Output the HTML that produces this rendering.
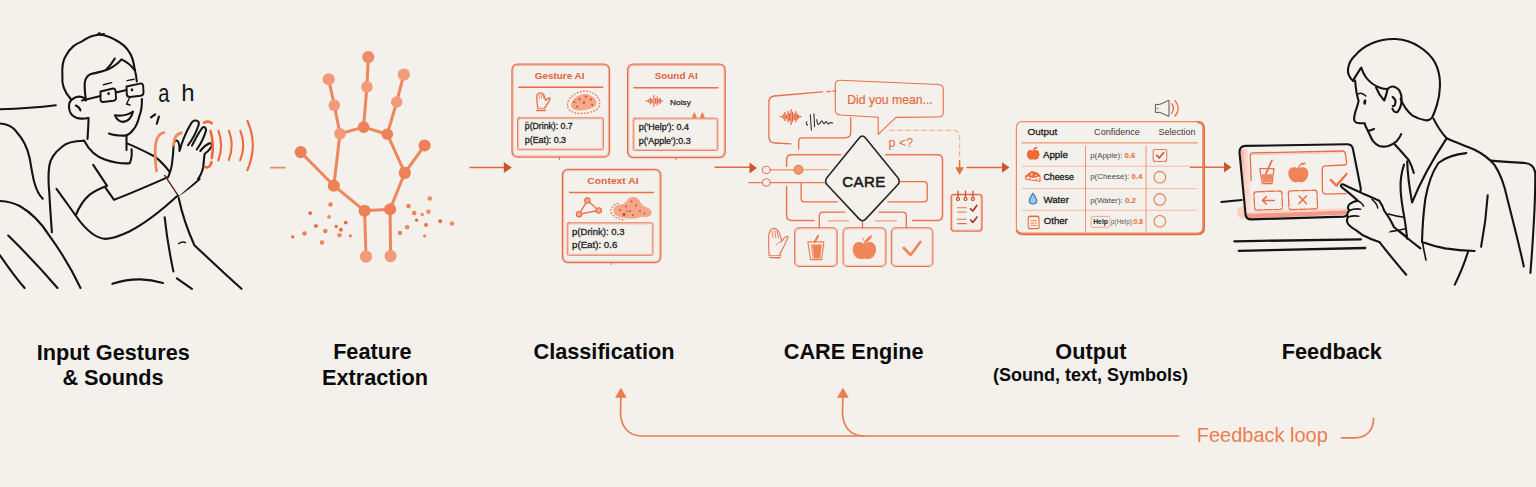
<!DOCTYPE html>
<html lang="en">
<head>
<meta charset="utf-8">
<title>CARE pipeline</title>
<style>
html,body{margin:0;padding:0;background:#f4f1ec;}
body{width:1536px;height:487px;overflow:hidden;font-family:"Liberation Sans",sans-serif;}
svg{display:block;}
.lbl{font-family:"Liberation Sans",sans-serif;font-weight:bold;font-size:21.7px;fill:#0a0a0a;text-anchor:middle;}
.k{fill:none;stroke:#141414;stroke-width:2.1;stroke-linecap:round;stroke-linejoin:round;}
.o{fill:none;stroke:#ea6d4a;stroke-width:1.3;stroke-linecap:round;stroke-linejoin:round;}
.ol{fill:none;stroke:#ee8a62;stroke-width:1.3;stroke-linecap:round;stroke-linejoin:round;}
.of{fill:#ee7f55;stroke:none;}
.ct{font-family:"Liberation Sans",sans-serif;font-weight:bold;font-size:9.9px;fill:#e0623f;text-anchor:middle;}
.pt{font-family:"Liberation Sans",sans-serif;font-size:9px;fill:#222;stroke:#222;stroke-width:0.3;}
</style>
</head>
<body>
<svg width="1536" height="487" viewBox="0 0 1536 487">
<rect x="0" y="0" width="1536" height="487" fill="#f4f1ec"/>

<!-- LABELS -->
<g id="labels">
<text class="lbl" x="113.3" y="359.9">Input Gestures</text>
<text class="lbl" x="113" y="385.4">&amp; Sounds</text>
<text class="lbl" x="372.3" y="358.6">Feature</text>
<text class="lbl" x="375.1" y="385.2">Extraction</text>
<text class="lbl" x="604" y="358.6">Classification</text>
<text class="lbl" x="853.7" y="359.4">CARE Engine</text>
<text class="lbl" x="1090.9" y="359.3">Output</text>
<text class="lbl" x="1090.5" y="381.3" style="font-size:18px">(Sound, text, Symbols)</text>
<text class="lbl" x="1331.8" y="358.8">Feedback</text>
</g>

<!-- FEEDBACK LOOP -->
<g id="loop" fill="none" stroke="#e87d52" stroke-width="1.7" stroke-linecap="round">
<path d="M1178.5 436 H642 C628 436 620.5 426 620.5 412 L620.9 396"/>
<path d="M864 436 C850 436 842.5 426 842.5 412 L842.9 396"/>
<path d="M1341.5 437.8 H1355 C1366 437.6 1373.6 431 1373.6 418.3"/>
<path d="M620.9 387.8 L626.8 397.8 L615 397.8 Z" fill="#e87d52" stroke="none"/>
<path d="M842.9 387.8 L848.8 397.8 L837 397.8 Z" fill="#e87d52" stroke="none"/>
</g>
<text x="1196.8" y="442.3" textLength="131" lengthAdjust="spacingAndGlyphs" style="font-family:'Liberation Sans',sans-serif;font-size:19.8px;fill:#ee7d50;">Feedback loop</text>

<!-- FLOW ARROWS -->
<g id="arrows" stroke="#dd6a3f" stroke-width="1.4" fill="none" stroke-linecap="round">
<path d="M270.8 167.7 H285" stroke="#ee8a5e" stroke-width="1.7"/>
<path d="M470 167.5 H505"/>
<path d="M503.8 161.9 L511.8 167.5 L503.8 173.1 Z" fill="#c8552e" stroke="none"/>
<path d="M715 167.3 H750"/>
<path d="M749.5 162.6 L757 168 L749.5 173.4 Z" fill="#c8552e" stroke="none"/>
<path d="M967 167.5 H1003"/>
<path d="M1002 162.3 L1009.5 167.5 L1002 172.7 Z" fill="#c8552e" stroke="none"/>
<path d="M1190.5 167.2 H1225"/>
<path d="M1224 162 L1231.5 167.2 L1224 172.4 Z" fill="#c8552e" stroke="none"/>
</g>

<!--P1START-->
<g id="person1" class="k">
<!-- couch -->
<path d="M0 109.3 C20 108.7 40 107.2 55.8 105.2"/>
<path d="M0 123.5 C8 124 13 127 16.4 131.7 C24 140 28 150 29.6 158 C31.5 168 32.5 176 34.5 183 C36.5 190 39 195 42.7 198.8"/>
<path d="M0 201 C8 201.5 14 203 19.7 206 C32 213 42 224 49.3 235.6 C62 253 72 270 80.5 288"/>
<path d="M8.2 235.6 C25 252 42 270 57.5 288"/>
<path d="M0 255.3 C8 267 16 278 24.6 288"/>
<!-- head -->
<path d="M70.6 98.8 C64.5 92 61.5 84 62.4 75.8 C61.8 66 63 60 65.7 56.1 C70 47 76 44 82 41.4 C88 37 93 35.3 98.5 34.8 C105 34.5 110 37 115 39.7 C122 43 127 48 129.8 52.9 C133 58 134 64 134.7 69.3 C135.8 73.5 136.5 77.5 136.8 81.5"/>
<path d="M97 35 L99.5 33.2 M100.5 34.6 L104 34"/>
<path d="M86 100.5 C85 94 84.3 88 84.8 82.4 C85.5 78 87.5 75.5 90.3 74.2 C97 72.5 103 71.5 108.4 69.3 C114 66.5 118.5 63 121.5 59.4 C127 62 131.5 66 134.7 70"/>
<path d="M105.8 70 C109.5 66.5 112.5 62.5 114.8 58.5"/>
<!-- ear -->
<path d="M84.8 98.2 C81 96.3 76.5 96.5 73.9 98.2 C70.5 100 69 102.5 69 105.4 C68.8 109.5 70 113 72.3 115.3 C75 117.8 78.5 118.8 82.1 118.6 C84.5 118.6 86.5 118.3 88 117.9"/>
<path d="M75.8 105.5 C78 106.5 79.8 108.3 80.5 110.5"/>
<!-- jaw & neck -->
<path d="M141.9 99 C142 106 141 112 139.6 115.3 C138 122 136 127 133 130 C130 134 126 135.8 123.2 135.6 C118 135.6 113 135 109 133.5"/>
<path d="M88.5 118 C88.5 125 88 132 87.5 139"/>
<path d="M126.5 136 L126.5 150"/>
<!-- glasses -->
<path d="M100.5 91.5 L113 88.5 C114.5 88.3 115.3 89 115.5 90.5 L116 98 C116 99.5 115 100.5 113.5 100.8 L103 102 C101.5 102 100.7 101 100.5 99.5 Z" stroke-width="1.9"/>
<path d="M126.5 86.5 L140 83.6 C142 83.3 143 84.2 143.2 86 L143.5 92.5 C143.5 94.5 142.5 95.5 140.5 95.8 L130 97 C128 97 127 96 126.8 94.5 Z" stroke-width="1.9"/>
<path d="M116 92.5 L126.5 90" stroke-width="1.9"/>
<path d="M100.5 96 L82 100.5" stroke-width="1.9"/>
<ellipse cx="108.6" cy="93.6" rx="1.3" ry="1.6" fill="#161616" stroke="none"/>
<ellipse cx="132" cy="89.8" rx="1.3" ry="1.6" fill="#161616" stroke="none"/>
<path d="M103.5 84.8 L111.7 82.6 M127 80.6 L134 79.2" stroke-width="1.4"/>
<path d="M129.8 97.2 L126.5 104 L130 105" stroke-width="1.4"/>
<path d="M115 115.3 C121 116.2 128 115 133 111.5 C131.5 118 127.5 121.5 123 121.9 C119 121.5 116.5 119 115 115.3 Z"/>
<!-- collar, shoulders -->
<path d="M84 140.5 C90 152 98 157.5 105.4 159.7 C114 162.5 123 163.8 129.8 163.2 C131.6 159 132 154 131.6 149.2"/>
<path d="M84 140.8 C74 141 66 143 62.4 146.5 C54 153 50 160 49.3 166 C48 175 48.5 185 49.3 192.9 C50 207 51 220 51.9 232.3"/>
<path d="M127 143.4 C137 147.5 146 152 154.2 156.2 C160 160.5 166 167 171 173.6"/>
<!-- sleeve & arm -->
<path d="M93.2 164.9 L107.1 185.8 C100 188.5 94 191.5 89.7 194.6 C84 199.5 79 207 75.7 215.5 L56.5 188.9"/>
<path d="M105.4 187.6 L114.1 199.8 C132 193 150 185 168.2 177.1"/>
<path d="M75.7 215.5 C80 222 85 228 91.4 233 C96 236.5 100 238.5 105.4 238.9 C113 238.5 121 235.5 129.8 231.2 C146 223 162 210 176.9 196.3 C185 191 193 185 199.6 178.9"/>
<!-- torso right / leg -->
<path d="M164.7 217.3 C166.5 235 169.5 253 173.4 271.4"/>
<path d="M178.7 198 C182 214 187.5 230 194.4 245.2 C209 259 225 274 241.5 288.8"/>
<path d="M178.7 243.6 C181 242 183.5 241.7 185.7 242.6" stroke-width="1.4"/>
<path d="M112.4 283.8 C121 281 131 279.3 140.3 279.4 C148 279.6 156 281 163 282.9"/>
<path d="M176.9 278.3 L191.9 288.8"/>
<!-- hand -->
<path d="M168.2 177.1 C170 172.5 171.5 168 172 163.5 C173 157 173.4 150 173.6 145.5 C173.8 141.5 175.3 140 177 140.6 C179 141.5 179.6 146 179.5 151 C182 142 186 132 190.5 124.5 C192 121.5 194 120.3 196 120.5 C198.6 120.8 199.4 122.5 198.6 125 C200 126 201.5 127 202.5 127.6 C204 126.2 206 127.4 206.1 130 C205.5 134 204 138 202.5 141.5 L209.6 143.2 C211.5 143 212.4 144.5 211.8 146.2 C209.8 149.5 207.2 152 204.6 154 C204 159 203.5 163.5 203.2 167.5 C202 172 200.5 176 198 178.9 L178.7 196.3 Z" fill="#f4f1ec" stroke="none"/>
<path d="M168.2 177.1 C170 172.5 171.5 168 172 163.5 C173 157 173.4 150 173.6 145.5 C173.8 141.5 175.3 140 177 140.6 C179 141.5 179.6 146 179.5 151 C182 142 186 132 190.5 124.5 C192 121.5 194 120.3 196 120.5 C198.6 120.8 199.4 122.5 198.6 125 C196 133 192 140 188.1 145.2"/>
<path d="M192 145.6 C195 139.5 199 132 202.5 127.6 C204 126.2 206 127.4 206.1 130 C204.5 136.5 201 143.5 196.8 149.5"/>
<path d="M200.3 151 C203 147.5 206.5 144.5 209.6 143.2 C211.5 143 212.4 144.5 211.8 146.2 C209.8 149.5 207.2 152 204.6 154 C204 159 203.5 163.5 203.2 167.5 C202 172 200.5 176 198 178.9"/>
<path d="M164.7 175.4 L178.7 196.3" stroke="#5a2412" stroke-width="1.4"/>
<!-- a h marks -->
<path d="M151 117.4 L155.2 114.4 M156.8 123.8 L158.9 116.6" stroke-width="2.1"/>
</g>
<text x="158.2" y="101.7" textLength="11.2" lengthAdjust="spacingAndGlyphs" style="font-family:'Liberation Sans',sans-serif;font-size:25.5px;fill:#161616;">a</text>
<text x="181.2" y="101.1" style="font-family:'Liberation Sans',sans-serif;font-size:24px;fill:#161616;">h</text>
<g id="waves" fill="none" stroke="#ee6a3a" stroke-linecap="round">
<path d="M164 132.6 C158 133.6 155.4 139 155.2 150 C155.2 160 155.6 166 156.6 171" stroke-width="2.8" stroke="#f08a60"/>
<path d="M181.4 133 C176.5 133.6 174 137 173.6 145" stroke-width="2.8" stroke="#f08a60"/>
<path d="M204 122.6 C207 121.2 210 121.6 211.8 123.2 M210.6 131 C213 140 213.3 150 211.8 158 M211.5 162 C210.8 166 208.5 168.5 205 166.8" stroke-width="2.6"/>
<path d="M218.5 130.8 C221.8 140 221.8 151 218.3 160.4" stroke-width="2.1"/>
<path d="M229 130.8 C232.6 140 232.6 150 228.8 160" stroke-width="2.1"/>
<path d="M240.4 130.8 C244.2 140.5 244.2 150.5 240.2 160.4" stroke-width="2.1"/>
<path d="M247.5 121 C254.5 137 254.5 154 247.3 170.2" stroke-width="2.1"/>
</g>
<!--P1END-->
<!--HANDSTART-->
<g id="skeleton">
<g stroke="#ef865e" stroke-width="3" stroke-linecap="round" fill="none">
<path d="M328.6 79.3 L334.3 105.3"/>
<path d="M334.3 105.3 L340 133.7"/>
<path d="M368.3 57.1 L366.9 86.9"/>
<path d="M366.9 86.9 L363.6 127.1"/>
<path d="M403.8 74.6 L396.7 102"/>
<path d="M396.7 102 L387.3 134.2"/>
<path d="M340 133.7 L363.6 127.1"/>
<path d="M363.6 127.1 L387.3 134.2"/>
<path d="M340 133.7 L333.8 185.7"/>
<path d="M300.7 152.1 L333.8 185.7"/>
<path d="M333.8 185.7 L364.6 210.8"/>
<path d="M364.6 210.8 L390.1 209.3"/>
<path d="M390.1 209.3 L404.8 172.9"/>
<path d="M404.8 172.9 L387.3 134.2"/>
<path d="M404.8 172.9 L424.6 145.5"/>
<path d="M364.6 210.8 L366 256.6"/>
<path d="M390.1 209.3 L390.6 256.1"/>
</g>
<circle cx="368.3" cy="57.1" r="6.1" fill="#ef8c68"/>
<circle cx="366.9" cy="86.9" r="5.8" fill="#f19b7a"/>
<circle cx="363.6" cy="127.1" r="5.8" fill="#ed8158"/>
<circle cx="328.6" cy="79.3" r="6.1" fill="#f19b7a"/>
<circle cx="334.3" cy="105.3" r="5.8" fill="#f19b7a"/>
<circle cx="340" cy="133.7" r="5.8" fill="#f19b7a"/>
<circle cx="403.8" cy="74.6" r="6.1" fill="#f19b7a"/>
<circle cx="396.7" cy="102" r="5.8" fill="#f19b7a"/>
<circle cx="387.3" cy="134.2" r="5.8" fill="#ed8158"/>
<circle cx="300.7" cy="152.1" r="6.1" fill="#ed8158"/>
<circle cx="333.8" cy="185.7" r="6.1" fill="#ed8158"/>
<circle cx="424.6" cy="145.5" r="6.1" fill="#ed8158"/>
<circle cx="404.8" cy="172.9" r="6.1" fill="#ed8158"/>
<circle cx="364.6" cy="210.8" r="6.1" fill="#ed8158"/>
<circle cx="390.1" cy="209.3" r="6.1" fill="#ed8158"/>
<circle cx="366" cy="256.6" r="6.1" fill="#f19b7a"/>
<circle cx="390.6" cy="256.1" r="6.1" fill="#f19b7a"/>
<circle cx="292.7" cy="236.8" r="1.65" fill="#e96a40"/>
<circle cx="304.5" cy="233.5" r="2.25" fill="#ed8158"/>
<circle cx="310.2" cy="213.1" r="1.95" fill="#e96a40"/>
<circle cx="315.9" cy="225.9" r="1.95" fill="#e96a40"/>
<circle cx="322.0" cy="242.4" r="2.25" fill="#ed8158"/>
<circle cx="325.3" cy="231.1" r="2.25" fill="#ed8158"/>
<circle cx="329.1" cy="216.9" r="1.95" fill="#f08a60"/>
<circle cx="330.5" cy="204.6" r="2.25" fill="#ed8158"/>
<circle cx="336.2" cy="226.4" r="1.65" fill="#e96a40"/>
<circle cx="340.9" cy="229.7" r="1.95" fill="#e96a40"/>
<circle cx="339.5" cy="235.3" r="2.25" fill="#f08a60"/>
<circle cx="345.7" cy="222.6" r="1.95" fill="#e96a40"/>
<circle cx="350.4" cy="235.8" r="1.65" fill="#ed8158"/>
<circle cx="400.0" cy="233.0" r="2.25" fill="#ed8158"/>
<circle cx="407.1" cy="227.3" r="2.25" fill="#f08a60"/>
<circle cx="408.5" cy="206.0" r="2.25" fill="#ed8158"/>
<circle cx="414.2" cy="213.1" r="2.25" fill="#ed8158"/>
<circle cx="416.6" cy="220.2" r="1.65" fill="#e96a40"/>
<circle cx="422.2" cy="214.5" r="1.65" fill="#f08a60"/>
<circle cx="424.6" cy="235.8" r="1.65" fill="#f08a60"/>
<circle cx="426.0" cy="224.9" r="1.95" fill="#e96a40"/>
<circle cx="428.4" cy="211.7" r="2.25" fill="#f08a60"/>
<circle cx="429.8" cy="198.5" r="2.25" fill="#f08a60"/>
<circle cx="440.2" cy="221.2" r="1.95" fill="#e96a40"/>
<circle cx="452.0" cy="223.5" r="2.25" fill="#f08a60"/>
</g>
<!--HANDEND-->
<!--CARDSSTART-->
<g id="cards">
<!-- Gesture AI -->
<g class="o" stroke="#de6a4d" stroke-width="1">
<rect x="512" y="64.2" width="97.5" height="93" rx="5.5"/>
<rect x="513.2" y="65.5" width="95.2" height="90.4" rx="4.6" stroke-width="0.55" opacity="0.75"/>
<path d="M518.7 87.3 H602.7" stroke-width="1.4"/>
<rect x="517.6" y="117.8" width="85.8" height="32" rx="1.2" stroke-width="0.9"/>
<rect x="518.7" y="118.9" width="83.6" height="29.8" rx="1" stroke-width="0.5" opacity="0.7"/>
<path d="M559.5 157.3 V159.5" stroke-width="1"/>
<!-- hand icon -->
<path d="M537.9 108.1 C537.2 104.6 536.8 100.8 536.8 97.3 C536.8 96 537 95 537.5 94.2 C538.2 93.2 539 92.9 540 92.9 C541.4 92.9 542.7 93.4 543.5 94.2 C544.4 96.2 545 98.3 545.5 100.4 C546.6 99.2 548 98.2 549.3 97.8 C550.2 97.9 550.3 98.8 549.8 99.6 C548.4 102.2 546.8 104.8 545.2 107 L544.7 108.1" stroke-width="1.3"/>
<path d="M536.7 110.4 H545.5" stroke-width="1.5"/>
<path d="M538.2 108.3 H544.6" stroke-width="0.8"/>
<path d="M539 95 L539.6 98.4 M541 94 L541.6 98 M542.9 94.6 L543.4 98.2" stroke-width="0.7"/>
<!-- blob -->
<path d="M570.9 105 C571 102.5 572.2 100.5 574 98.9 C575.8 97 577.8 95.8 580.1 95 C582 94.2 584.2 93.8 586.3 93.9 C588.6 94.2 590.8 95.2 592.4 96.6 C594.2 97.8 595.6 99.4 596.3 101.2 C596.8 102.8 596.5 104.5 595.5 105.8 C594 107.5 591.8 108.4 589.4 108.9 C586.4 109.8 583.2 110.3 580.1 110.4 C577.6 110.4 575.2 110 573.2 108.9 C571.6 108 570.9 106.6 570.9 105 Z" fill="#f4a88a" stroke="none"/>
<path d="M567.5 105 C567.6 102.2 568.4 100 570.1 98.1 C572.4 95.5 575.2 93.6 578.6 92.4 C581 91.5 583.6 91 586.3 91.2 C589.4 91.5 592.4 92.6 594.8 94.2 C597 95.8 598.7 98 599.4 100.4 C600 102.9 599.8 105.3 598.6 107.3 C596.8 109.6 594 111.2 590.9 112 C587.4 113 583.7 113.5 580.1 113.5 C576.8 113.4 573.6 112.8 570.9 111.2 C568.6 109.8 567.5 107.6 567.5 105 Z" stroke-dasharray="1.7 1.5" stroke-width="1.25" stroke-linecap="butt"/>
</g>
<g fill="#d94f2c">
<circle cx="579.4" cy="99.2" r="1.1"/><circle cx="586" cy="96.6" r="1.1"/><circle cx="590.9" cy="99.6" r="1.1"/><circle cx="584" cy="102.7" r="1.2"/><circle cx="574.4" cy="102.1" r="1"/><circle cx="577.2" cy="106.6" r="1.1"/><circle cx="592.2" cy="104.8" r="1"/>
</g>
<text class="ct" x="559.6" y="78.6" textLength="49.8" lengthAdjust="spacingAndGlyphs">Gesture AI</text>
<text class="pt" style="font-size:8.7px" x="524.8" y="129.2" textLength="47.9" lengthAdjust="spacingAndGlyphs">p(Drink): 0.7</text>
<text class="pt" style="font-size:8.7px" x="524.8" y="143.2" textLength="41.2" lengthAdjust="spacingAndGlyphs">p(Eat): 0.3</text>
<path d="M525.2 122.2 H528.6" stroke="#2a2a2a" stroke-width="0.7"/>

<!-- Sound AI -->
<path d="M692.4 117.4 L694.4 112.6 L696.4 117.4 Z M700.2 117.4 L702.3 112.6 L704.4 117.4 Z" fill="#ee7b50" stroke="#ee7b50" stroke-width="0.8" stroke-linejoin="round"/>
<g class="o" stroke="#de6a4d" stroke-width="1">
<rect x="627.6" y="64.2" width="97.6" height="93.4" rx="5.5"/>
<rect x="628.8" y="65.5" width="95.2" height="90.8" rx="4.6" stroke-width="0.55" opacity="0.75"/>
<path d="M633.9 87.7 H717.9" stroke-width="1.4"/>
<rect x="633.2" y="118.2" width="84.6" height="32.2" rx="1.2" stroke-width="0.9" fill="#f4f1ec"/>
<rect x="634.3" y="119.3" width="82.4" height="30" rx="1" stroke-width="0.5" opacity="0.7"/>
<path d="M676 157.8 V159.6" stroke-width="1"/>
<!-- waveform -->
<path d="M646.2 100.9 H647.8 M649 99.3 V102.5 M650.6 97.9 V103.9 M652.2 99.5 V102.5 M653.9 95.5 V106.3 M655.6 98.6 V103.2 M657.2 96.9 V104.9 M658.8 99.3 V102.5 M660.2 98.3 V103.5 M661.4 100.9 H662.6" stroke-width="1.25"/>
</g>
<text class="ct" x="676.2" y="78.8" textLength="43" lengthAdjust="spacingAndGlyphs">Sound AI</text>
<text x="670.1" y="104.7" textLength="20.8" lengthAdjust="spacingAndGlyphs" style="font-family:'Liberation Sans',sans-serif;font-size:7.3px;fill:#2e2e2e;stroke:#2e2e2e;stroke-width:0.25;">Noisy</text>
<text class="pt" x="638.7" y="129.7" textLength="50.2" lengthAdjust="spacingAndGlyphs">p('Help'): 0.4</text>
<text class="pt" x="638.7" y="143.9" textLength="51.9" lengthAdjust="spacingAndGlyphs">p('Apple'):0.3</text>

<!-- Context AI -->
<g class="o" stroke="#de6a4d" stroke-width="1">
<rect x="562.4" y="169.4" width="98.4" height="93.2" rx="5.5"/>
<rect x="563.6" y="170.7" width="96" height="90.6" rx="4.6" stroke-width="0.55" opacity="0.75"/>
<path d="M569.7 192.5 H653.5" stroke-width="1.4"/>
<rect x="567.2" y="222.8" width="85.8" height="32.5" rx="1.2" stroke-width="0.9"/>
<rect x="568.3" y="223.9" width="83.6" height="30.3" rx="1" stroke-width="0.5" opacity="0.7"/>
<path d="M611 262.8 V264.6" stroke-width="1"/>
<!-- triangle graph -->
<path d="M587.4 200.6 L579 214.2 L598.8 210.5 Z" stroke-width="1.3"/>
<circle cx="587.4" cy="200.6" r="2.7" fill="#f4a88a" stroke-width="1.1"/>
<circle cx="579" cy="214.2" r="2.7" fill="#f4a88a" stroke-width="1.1"/>
<circle cx="598.8" cy="210.5" r="2.7" fill="#f4a88a" stroke-width="1.1"/>
<!-- blob -->
<path d="M613.5 211 C613 207 617 205 621 204.6 C624.5 204.2 626 201.5 627.8 199.2 C630 196.6 634.5 196.4 637.5 198.6 C640.5 201 641.2 205 644.5 206.6 C648 207.8 651.4 209 651.6 212.6 C651.6 216 648 217.6 644 216.8 C640.5 216.4 639 218.4 635 218.6 C629 219 622 218.4 618 216.6 C615 215.4 613.8 213.6 613.5 211 Z" fill="#f4a88a" stroke="none"/>
<path d="M618.5 203.4 C613.5 204.4 610.4 207.6 610.8 211.4 C611.4 216 617 219 625.5 220" stroke-dasharray="1.7 1.6" stroke-width="1.25" stroke-linecap="butt"/>
</g>
<g fill="#d94f2c">
<circle cx="620" cy="210" r="1"/><circle cx="626" cy="206.5" r="1"/><circle cx="631.5" cy="201.5" r="1.1"/><circle cx="636" cy="205.5" r="1"/><circle cx="630" cy="211" r="1"/><circle cx="624" cy="214.5" r="1.3" fill="#b82d16"/><circle cx="633" cy="215" r="0.9"/><circle cx="640" cy="211" r="1"/><circle cx="644.5" cy="213.5" r="0.9"/><circle cx="627" cy="211.5" r="0.8"/>
</g>
<text class="ct" x="613" y="184" textLength="51.3" lengthAdjust="spacingAndGlyphs">Context AI</text>
<text class="pt" style="font-size:9.4px" x="572" y="234.5" textLength="52.5" lengthAdjust="spacingAndGlyphs">p(Drink): 0.3</text>
<text class="pt" style="font-size:9.4px" x="572" y="248.3" textLength="45.3" lengthAdjust="spacingAndGlyphs">p(Eat): 0.6</text>
</g>
<!--CARDSEND-->
<!--ENGSTART-->
<g id="engine">
<g class="o" stroke-width="1.05" stroke="#e96f48">
<!-- sound bubble -->
<path d="M790.8 143.9 L775 143 C771 142.8 768.9 140.5 768.9 136.5 L768.9 102.5 C768.9 98.5 770.5 96.4 774.5 96 L822.4 91.9"/>
<path d="M827 91.6 L830.6 91.3 M833 91.1 L835.3 91"/>
<path d="M850.7 117.4 L850.7 132.5 C850.7 136 848.5 137.8 845 137.8 L801.7 137.8 C799.5 137.8 798.7 138.8 798.7 141 L798.7 149"/>
<!-- speech bubble -->
<path d="M840 80.2 L938.5 84.5 Q943.3 84.8 943.3 89.5 L943.3 112 Q943.3 117 938.5 117 L895.9 117.4 L878.2 134.4 L878.2 117.2 L840 115 Q835.3 114.7 835.3 110 L835.3 85 Q835.3 80 840 80.2 Z" stroke-width="1.1"/>
<!-- outer rect -->
<path d="M840.5 154.7 L791.5 154.7 C788.3 154.7 786.6 156.4 786.6 159.6 L786.6 166.4 M786.6 186.4 L786.6 215.5 C786.6 218.8 788.3 220.4 791.5 220.4 L813.9 220.4" stroke-width="1.5" stroke="#ee7454"/>
<path d="M885.7 154.7 L937.5 154.7 C940.8 154.7 942.5 156.4 942.5 159.6 L942.5 215.5 C942.5 218.8 940.8 220.4 937.5 220.4 L912.5 220.4" stroke-width="1.5" stroke="#ee7454"/>
<!-- inner rects -->
<path d="M801.1 183 L801.1 198.5 C801.1 200.8 802.3 201.9 804.5 201.9 L837.3 201.9"/>
<path d="M900.2 181.7 L923.5 181.7 C926 181.7 927.3 183 927.3 185.5 L927.3 198.2 C927.3 200.7 926 201.9 923.5 201.9 L887.9 201.9"/>
<!-- input lines -->
<path d="M748.6 182.6 H762.2 M770.2 182.6 H825" stroke-width="1.05" stroke="#ec7a54"/>
<path d="M770.2 169.9 H794" stroke="#ee8a62" stroke-width="1.1"/>
<path d="M803 169.7 H828" stroke="#f2a684"/>
<ellipse cx="766.2" cy="169.9" rx="4" ry="3.7" fill="#f4f1ec" stroke-width="1"/>
<ellipse cx="766.2" cy="182.5" rx="4" ry="3.7" fill="#f4f1ec" stroke-width="1"/>
<circle cx="798.5" cy="169.7" r="4.3" fill="#f29a72" stroke="#ee7b50"/>
<!-- tree -->
<path d="M844.7 212.2 L823 212.2 C820.5 212.2 819.3 213.4 819.3 216 L819.3 227.8"/>
<path d="M879.2 212.2 L902.5 212.2 C905 212.2 906.3 213.4 906.3 216 L906.3 227.8"/>
<path d="M862.5 221 V227.8"/>
<path d="M828.7 220.9 H848.4 M875.5 220.9 H896.5" stroke="#f2a07a"/>
<!-- boxes -->
<rect x="794.7" y="227.8" width="42.5" height="38.6" rx="4.5" stroke-width="1.05"/>
<rect x="843" y="227.8" width="43" height="38.6" rx="4.5" stroke-width="1.05"/>
<rect x="891.3" y="227.8" width="41.6" height="38.6" rx="4.5" stroke-width="1.05"/>
<rect x="795.8" y="228.9" width="40.3" height="36.4" rx="3.6" stroke-width="0.5" opacity="0.6"/>
<rect x="844.1" y="228.9" width="40.8" height="36.4" rx="3.6" stroke-width="0.5" opacity="0.6"/>
<rect x="892.4" y="228.9" width="39.4" height="36.4" rx="3.6" stroke-width="0.5" opacity="0.6"/>
<!-- check -->
<path d="M903.8 248 L910.6 255 L920.4 241.9" stroke-width="2.6" stroke="#f0875c"/>
<!-- cup -->
<path d="M807.8 241.9 H823.9 L821.6 259.6 H810.6 Z" stroke-width="1.1" stroke="#ee7b50"/>
<path d="M814.5 242.3 L818.2 235.8" stroke-width="2" stroke="#ee7b50"/>
<path d="M810.8 244.6 H821.9 L820.3 258.4 H812.6 Z" fill="#f08558" stroke="none"/>
<path d="M811.9 244.8 L813.5 258" stroke="#f7c9b4" stroke-width="0.8"/>
<!-- apple -->
<path d="M864.4 244.2 C861.4 241.6 857.4 241.4 855 243.6 C852 246.6 852.2 251.6 854.2 255 C856.2 258.4 860 260.2 864.4 258.4 C868.8 260.2 872.6 258.4 874.6 255 C876.6 251.6 876.8 246.6 873.8 243.6 C871.4 241.4 867.4 241.6 864.4 244.2 Z" fill="#f08558" stroke="none"/>
<path d="M864.6 243.8 C864.4 241.4 863.8 239.6 862.8 238" stroke-width="1" stroke="#f08558"/>
<path d="M864.8 243 C865.6 239.4 868.4 236.4 872 235.6 C871 238.6 868.6 241.4 864.8 243 Z" fill="#f08558" stroke="#f08558" stroke-width="0.8"/>
<!-- glove -->
<path d="M769.1 255.2 C768.6 248.5 768.4 241.5 768.8 235.2 C769 233 769.6 231.2 770.5 230 C771.6 228.8 773 228.3 774.6 228.4 C776.4 228.8 777.8 230 778.8 231.7 C780 234.8 781 238 781.7 241.1 C783 239.2 784.8 237.4 786.4 236.4 C787.6 236 788.3 236.6 787.9 237.6 C785.6 243.2 782.8 248.8 779.9 254 L780.5 255.2" stroke-width="1.1"/>
<path d="M769.4 257.4 C773 258 776.8 258 780.2 257.5" stroke-width="1.3"/>
<path d="M769.2 255.3 C773 255.8 776.8 255.8 780.4 255.3" stroke-width="0.8"/>
<path d="M771.7 231.1 L773.1 237.6 M774.6 230 L775.8 237.6 M777 231.1 L778.5 238.2" stroke-width="0.8"/>
<path d="M775.8 245.2 C777.4 243.4 779.6 242 781.7 241.7" stroke-width="0.8"/>
<!-- notepad -->
<rect x="951.2" y="194.3" width="30.8" height="36.8" rx="3" stroke-width="1.3"/>
<rect x="952.4" y="195.5" width="28.4" height="34.4" rx="2.3" stroke-width="0.5" opacity="0.6"/>
<path d="M957.4 207.7 H966.2 M957.4 212 H966.2 M957.4 219.3 H966.2 M957.4 223.6 H966.2" stroke-width="1.1"/>
</g>
<g fill="none" stroke="#c9451f" stroke-width="1.2" stroke-linecap="round">
<path d="M958 191 V198.5 M965.5 191 V198.5 M972.9 191 V198.5"/>
<circle cx="958" cy="199" r="1.5" fill="#f4f1ec"/><circle cx="965.5" cy="199" r="1.5" fill="#f4f1ec"/><circle cx="972.9" cy="199" r="1.5" fill="#f4f1ec"/>
</g>
<g fill="none" stroke="#a83218" stroke-width="1.6" stroke-linecap="round" stroke-linejoin="round">
<path d="M970.5 208.8 L972.9 211 L977 205.3 M970.5 220 L972.9 222.4 L977 217"/>
</g>
<!-- dashed line + arrow -->
<path d="M889 130.3 H953.5 C957.5 130.3 959.6 132.3 959.6 136.3 V158" fill="none" stroke="#f5b48e" stroke-width="1.2" stroke-dasharray="5.5 2.6"/>
<path d="M959.6 160 V168" fill="none" stroke="#e8733f" stroke-width="1.5"/>
<path d="M955.2 167.2 H964 L959.6 175 Z" fill="#e8733f"/>
<!-- orange waveform -->
<g stroke="#e8643a" stroke-width="1.25" stroke-linecap="round" fill="none">
<path d="M780.2 116.6 H781.8 M783.2 114.6 V118.6 M784.8 112.6 V120.6 M786.4 114.8 V118.6 M788 111.4 V121.8 M789.5 113.6 V120.2 M791 109.6 V124.4 M792.6 112.2 V121.6 M794.2 114 V119.6 M795.8 111.6 V121.8 M797.3 114.2 V119.2 M798.7 115.6 V117.8 M799.8 116.6 H801"/>
</g>
<path d="M806.9 121.8 L806.2 123.8 L807.6 125.2 M810.3 114.5 L811.4 130.3 M813.9 113.7 L814.6 126.7 M816.8 119.5 C817 122 817.4 124 818.2 124.5 C819.6 124.6 820.6 121.4 821.8 120.9 C822.8 121 823.2 123.6 823.9 123.8 C824.8 123.6 825.4 121.8 826.1 121.6 C827 121.8 827.4 124 828.2 124.1 C829 124 829.6 122.8 830.4 122.6 C831.2 122.6 831.8 123 832.6 123.1" fill="none" stroke="#2a2a2a" stroke-width="1.05" stroke-linejoin="round" stroke-linecap="round"/>
<!-- diamond -->
<path d="M859.2 137.9 Q862.3 134.0 865.5 137.9 L897.7 177.4 Q900.9 181.3 897.5 185.0 L865.9 218.9 Q862.5 222.6 859.1 218.9 L827.4 185.0 Q824.0 181.3 827.1 177.4 Z" fill="#f4f1ec" stroke="#262626" stroke-width="1.6" stroke-linejoin="round"/>
<text x="863.9" y="186.7" text-anchor="middle" style="font-family:'Liberation Sans',sans-serif;font-size:15px;letter-spacing:0.45px;fill:#1c1c1c;stroke:#1c1c1c;stroke-width:0.6;">CARE</text>
<text x="847.3" y="103.5" style="font-family:'Liberation Sans',sans-serif;font-size:12.2px;fill:#e8693f;stroke:#e8693f;stroke-width:0.2;">Did you mean...</text>
<text x="888.6" y="146.9" style="font-family:'Liberation Sans',sans-serif;font-size:12.4px;fill:#e8693f;">p &lt;?</text>
</g>
<!--ENGEND-->
<!--TABLESTART-->
<g id="table">
<path d="M1198 122 C1201.6 122.4 1203.8 124.6 1203.8 128 L1203.8 228 C1203.8 231.8 1201.6 234 1197.8 234 L1022.5 234 C1019.8 234 1018 233 1017 231" fill="none" stroke="#e8663c" stroke-width="2.3" stroke-linecap="round"/>
<rect x="1016.4" y="121.6" width="186.6" height="111.8" rx="5.5" fill="none" stroke="#ee8a62" stroke-width="1.2"/>
<g class="ol" stroke-width="1" stroke="#f0a080">
<path d="M1022.2 142.9 H1197.1" stroke="#ee9470" stroke-width="1.1"/><path d="M1022.2 166.2 H1196.8 M1022.2 188.6 H1196.8 M1022.2 210.3 H1196.8" stroke="#f3b29a" stroke-width="0.9"/>
<path d="M1085.5 145.9 V231 M1146.1 145.9 V231" stroke="#ee8f6a" stroke-width="0.95"/>
</g>
<g style="font-family:'Liberation Sans',sans-serif;">
<text x="1027.5" y="135.3" textLength="29.8" lengthAdjust="spacingAndGlyphs" style="font-size:8.7px;fill:#1a1a1a;stroke:#1a1a1a;stroke-width:0.25;">Output</text>
<text x="1094.1" y="135.3" textLength="45.8" lengthAdjust="spacingAndGlyphs" style="font-size:8.6px;fill:#3a3a3a;">Confidence</text>
<text x="1158.5" y="135.3" textLength="37" lengthAdjust="spacingAndGlyphs" style="font-size:8.6px;fill:#3a3a3a;">Selection</text>
<g style="font-size:9.4px;fill:#1a1a1a;stroke:#1a1a1a;stroke-width:0.3;">
<text x="1043" y="157.8" textLength="24.8" lengthAdjust="spacingAndGlyphs">Apple</text>
<text x="1043.4" y="179.5" textLength="30.5" lengthAdjust="spacingAndGlyphs">Cheese</text>
<text x="1043.4" y="203" textLength="25.5" lengthAdjust="spacingAndGlyphs">Water</text>
<text x="1043.8" y="223.8" textLength="24" lengthAdjust="spacingAndGlyphs">Other</text>
</g>
<g style="font-size:7.9px;fill:#4a4a4a;">
<text x="1090.2" y="157.7">p(Apple): <tspan fill="#ee6a30" font-weight="bold">0.6</tspan></text>
<text x="1090.2" y="179.4">p(Cheese): <tspan fill="#ee6a30" font-weight="bold">0.4</tspan></text>
<text x="1090.2" y="203">p(Water): <tspan fill="#ee6a30" font-weight="bold">0.2</tspan></text>
</g>
<text x="1111" y="223.6" style="font-size:6.4px;fill:#5a5a5a;">p(Help):<tspan fill="#ee6a30" font-weight="bold" style="font-size:6.6px">0.8</tspan></text>
<rect x="1091.1" y="216.4" width="18.8" height="11" rx="1.5" fill="none" stroke="#f0a080" stroke-width="0.9"/>
<text x="1093.2" y="224.2" style="font-size:6.8px;fill:#222;font-weight:bold;">Help</text>
</g>
<!-- selection -->
<rect x="1153.2" y="149.5" width="13.5" height="12" rx="2" fill="none" stroke="#ee7b50" stroke-width="1.1"/>
<path d="M1156.6 155.3 L1159.2 158 L1163.6 152.6" fill="none" stroke="#c9451f" stroke-width="1.5" stroke-linecap="round" stroke-linejoin="round"/>
<circle cx="1159.8" cy="177.2" r="5.8" fill="none" stroke="#ee7b50" stroke-width="1.1"/>
<circle cx="1159.8" cy="199.4" r="5.8" fill="none" stroke="#ee7b50" stroke-width="1.1"/>
<circle cx="1159.8" cy="221.3" r="5.8" fill="none" stroke="#ee7b50" stroke-width="1.1"/>
<!-- apple icon -->
<path d="M1033.2 151.2 C1031.2 149.6 1028.8 149.8 1027.6 151.6 C1026.3 153.6 1026.8 156.6 1028.2 158.2 C1029.6 159.8 1031.6 160 1033.2 159.2 C1034.8 160 1036.8 159.8 1038.2 158.2 C1039.6 156.6 1040 153.6 1038.8 151.6 C1037.6 149.8 1035.2 149.6 1033.2 151.2 Z" fill="#ee6a3a"/>
<path d="M1033.4 150.8 C1033.8 149 1035 147.8 1036.8 147.4" fill="none" stroke="#ee6a3a" stroke-width="1.5" stroke-linecap="round"/>
<!-- cheese icon -->
<path d="M1025.4 176.4 L1031.8 171.7 C1035.6 171.9 1038.6 173.6 1040 176 L1040 181.2 L1025.9 179.2 Z" fill="#f4f1ec" stroke="#ee6a3a" stroke-width="1.1" stroke-linejoin="round"/>
<path d="M1025.4 176.4 L1031.8 171.7 C1035.6 171.9 1038.6 173.6 1040 176 L1033.4 177.6 Z" fill="#ee6a3a" stroke="#ee6a3a" stroke-width="0.8" stroke-linejoin="round"/>
<circle cx="1031.6" cy="174.6" r="1" fill="#f4f1ec"/><circle cx="1035.8" cy="175.2" r="0.8" fill="#f4f1ec"/><circle cx="1028.6" cy="176.3" r="0.6" fill="#f4f1ec"/>
<circle cx="1030" cy="178.6" r="0.7" fill="#ee6a3a"/><circle cx="1036.6" cy="179.3" r="0.8" fill="#ee6a3a"/>
<!-- water drop -->
<path d="M1033 193.2 C1034.6 196 1036.8 198.4 1036.8 200.6 C1036.8 202.8 1035.2 204 1033 204 C1030.8 204 1029.2 202.8 1029.2 200.6 C1029.2 198.4 1031.4 196 1033 193.2 Z" fill="#9cc4e6" stroke="#2f73b5" stroke-width="1.1" stroke-linejoin="round"/>
<!-- notepad icon -->
<rect x="1028.2" y="216.4" width="10.8" height="12.2" rx="1.3" fill="none" stroke="#ee6a3a" stroke-width="1.1"/>
<path d="M1030.4 215.2 V217.4 M1033.6 215.2 V217.4 M1036.8 215.2 V217.4" stroke="#ee6a3a" stroke-width="1" fill="none"/>
<path d="M1030.4 220.6 H1036.8 M1030.4 223 H1036.8 M1030.4 225.4 H1036.8" stroke="#ee6a3a" stroke-width="0.8" fill="none"/>
<!-- speaker -->
<path d="M1155.4 104.4 L1155.4 112.4 L1159.8 112.4 L1169 116.4 L1169 100.2 L1159.8 104.4 Z" fill="none" stroke="#555" stroke-width="1" stroke-linejoin="round"/>
<circle cx="1157.6" cy="108.4" r="0.9" fill="#ee6a3a"/>
<path d="M1171.8 103.6 C1173.8 106.6 1173.8 110.2 1171.8 113.2" fill="none" stroke="#ee6a3a" stroke-width="1.3" stroke-linecap="round"/>
<path d="M1175 100.8 C1179.2 105.6 1179.2 111.4 1175 116" fill="none" stroke="#ee6a3a" stroke-width="1.4" stroke-linecap="round"/>
</g>
<!--TABLEEND-->
<!--P2START-->
<g id="tablet">
<!-- desk lines -->
<g class="k">
<path d="M1221.4 202 L1241.6 200"/>
<path d="M1234.4 241.3 L1360.9 239.3" stroke-width="2.3"/>
<path d="M1238.7 250.8 L1365.2 248" stroke-width="2.3"/>
</g>
<ellipse cx="1242.5" cy="212.5" rx="5.5" ry="6" fill="#f6d2bd"/>
<!-- tablet body -->
<path d="M1245.4 145.9 L1347 144.3 C1350.4 144.3 1352.2 145.6 1352.9 148.8 L1360.6 187.5 C1361.2 190.5 1360.6 192.5 1359 195 L1349.5 212.6 C1348 215.3 1346.5 216.4 1343.5 216.6 L1251.5 219.4 C1248.3 219.5 1246.2 218 1245.6 215 L1239.5 152.4 C1239.3 148.4 1241.4 146 1245.4 145.9 Z" fill="#f4f1ec" stroke="none"/>
<defs><linearGradient id="tg" x1="0" y1="0" x2="1" y2="0"><stop offset="0" stop-color="#f4a595"/><stop offset="0.4" stop-color="#f8d2c6"/><stop offset="1" stop-color="#f4f1ec"/></linearGradient></defs>
<path d="M1240 150 L1247.4 148.6 L1253.6 214 L1246 216 Z" fill="url(#tg)"/>
<path d="M1246.4 213.6 L1347.4 210 L1346.4 214.4 L1250 218.6 L1246.8 217.4 Z" fill="#f2988a"/>
<path d="M1252 211.4 L1346.4 208.2 L1346.4 210.4 L1252 213.8 Z" fill="#f8d3c6"/>
<path d="M1245.4 145.9 L1347 144.3 C1350.4 144.3 1352.2 145.6 1352.9 148.8 L1360.6 187.5 C1361.2 190.5 1360.6 192.5 1359 195 L1349.5 212.6 C1348 215.3 1346.5 216.4 1343.5 216.6 L1251.5 219.4 C1248.3 219.5 1246.2 218 1245.6 215 L1239.5 152.4 C1239.3 148.4 1241.4 146 1245.4 145.9 Z" class="k" stroke-width="2.2"/>
<g class="o" stroke="#ee7b50" stroke-width="1.2">
<!-- inner screen border -->
<path d="M1251.2 180.4 L1250.2 156 C1250.1 154 1251 153 1253 152.9 L1342 151 C1344.2 151 1345.2 152 1345.4 154 L1346.6 162 C1346.8 164 1346 164.9 1344 165 L1326 165.9 C1323.4 166 1322.2 167.2 1322.2 169.8 L1322.4 190 C1322.5 192.8 1323.8 194.2 1326.4 194.1 L1346 193.6"/>
<path d="M1251.8 154.6 L1341 152.8" stroke-width="0.5" opacity="0.7"/>
<!-- buttons -->
<path d="M1256 191.8 L1279.5 191 C1281 191 1281.8 191.7 1281.9 193.2 L1282.4 207 C1282.4 208.5 1281.7 209.2 1280.2 209.3 L1257 210.2 C1255.5 210.2 1254.7 209.5 1254.6 208 L1254 194 C1254 192.6 1254.6 191.9 1256 191.8 Z" stroke-dasharray="9 1.5"/>
<path d="M1290.4 190.8 L1314.5 190.2 C1316 190.2 1316.8 190.9 1316.9 192.4 L1317.6 206.5 C1317.6 208 1316.9 208.7 1315.4 208.8 L1291.4 209.6 C1289.9 209.6 1289.1 208.9 1289 207.4 L1288.4 193 C1288.4 191.6 1289 190.9 1290.4 190.8 Z" stroke-dasharray="9 1.5"/>
<path d="M1262.4 200.4 H1274.4 M1266.4 196.6 L1262.4 200.4 L1266.4 204.2" stroke-width="1.5"/>
<path d="M1299 196 L1306.4 203.6 M1306.4 196 L1299 203.6" stroke-width="1.5"/>
<!-- cup -->
<path d="M1259.7 168.6 H1274 L1272 183.6 H1262.4 Z" stroke-width="1.2"/>
<path d="M1265.8 174 L1271.9 160.3" stroke-width="1.7"/>
<path d="M1261.6 174.2 H1272.6 L1271.4 182.6 H1263.2 Z" fill="#f08a62" stroke="none"/>
<!-- apple -->
<path d="M1298.3 168.8 C1295.6 166.8 1292 166.8 1289.9 168.8 C1287.6 171.2 1288 175.6 1289.8 178.6 C1291.6 181.6 1294.6 183.4 1298.3 181.8 C1302 183.4 1305.2 181.6 1307 178.6 C1308.8 175.6 1309 171.2 1306.6 168.8 C1304.4 166.8 1301 166.8 1298.3 168.8 Z" fill="#f08358" stroke="none"/>
<path d="M1298.6 168.4 C1299 166 1300.2 164.4 1302 163.4" stroke-width="1.4" stroke="#ee7b50"/>
<path d="M1300.8 164.6 C1302.4 162.6 1304.4 162.2 1306 162.8 C1304.8 164.8 1302.8 165.4 1300.8 164.6 Z" fill="#ee7b50" stroke="none"/>
<!-- check -->
<path d="M1330.7 179.8 L1336.4 185.6 L1346.5 174" stroke-width="2.4" stroke="#f0744a"/>
</g>
</g>
<g id="person2" class="k">
<!-- chair -->
<path d="M1491 160.6 C1503 161.6 1516 162.4 1525 163 C1531 163.6 1534.5 167 1535.3 172.9 C1535.6 206 1533 240 1530.4 273"/>
<!-- hair / head -->
<path d="M1353 80.8 C1349.5 77.5 1347.6 73.5 1348 69.3 C1348.6 64 1351 59.5 1354.6 56.1 C1359.5 50 1365.5 46 1372.7 43 C1380 40 1388 38.6 1395.7 39 C1404 39.6 1412 42 1418.7 46.3 C1426 50.8 1431.5 56 1435.1 62.7 C1438.6 69.5 1440.2 77.5 1440 85.7 C1439.8 92.5 1438.6 99.5 1436.8 105.4 C1435.4 110 1433.8 114.2 1431.9 117.9 C1430 120 1427.6 120.6 1425.3 120.2 C1420.5 119.4 1416 117.6 1412.1 115.3 C1407 111 1403 105 1400.6 98.9"/>
<path d="M1353 80.8 C1355.6 76 1358.6 71.5 1361.2 67.6 C1362.4 71.2 1364 74.6 1366.1 77.5 C1369.5 82 1374 85.4 1379.3 87.4 C1382 88.4 1385 89 1387.5 89"/>
<path d="M1376 87.4 C1378 92.5 1380.8 97 1384.2 100.5 C1385.8 96.5 1387 92.6 1387.5 89"/>
<!-- ear -->
<path d="M1387.5 89 C1390 86.6 1393.2 86 1395.7 87.4 C1399.6 89.6 1401.6 94 1401.6 98.9 C1401.6 104 1400 109 1397.4 112 C1395.4 113 1393.4 111.4 1392.4 108.7"/>
<path d="M1392.6 97 C1395 98.5 1396 101.5 1395 104.5 C1394.4 106 1393.6 106.4 1392.8 106"/>
<!-- face -->
<path d="M1355.1 80.5 C1355.4 85 1356 89 1356.6 92.9 C1357.2 96 1358 98.8 1358.6 101.1 C1357.8 104.8 1356.6 108 1355.5 111.4 C1354.6 114.4 1354 117 1354.1 119.6 C1354.4 121.4 1355.2 122.3 1356.6 122.7 C1359 123.3 1362 123.3 1364.8 123.3 C1365 124.5 1365.4 125.7 1365.8 126.8 C1366.6 128.2 1367.3 129.6 1367.9 130.9 C1370 130.6 1372.2 129.8 1374 128.8"/>
<path d="M1367.9 130.9 C1368.6 132.4 1369.2 133.8 1369.9 135 C1370.8 137.2 1371.8 139.4 1373 141.2 C1374.8 143.4 1376.8 145 1379.2 145.9 C1382.2 146.8 1385.4 146.8 1388.4 145.9 C1391.6 144.8 1394.4 143.2 1396.6 141.2 C1398.6 139.2 1400.2 136.8 1401.2 134"/>
<ellipse cx="1364.8" cy="102.1" rx="1.5" ry="2.8" transform="rotate(8 1364.8 102.1)" fill="#141414" stroke="none"/>
<path d="M1357.8 94 C1360.4 92.6 1363.6 93.6 1365.8 96" stroke-width="1.5"/>
<!-- neck -->
<path d="M1394.6 144.2 C1399.5 149.5 1404.5 155 1408.8 160.2 C1411 164.3 1412.8 168.6 1413.8 172.9"/>
<path d="M1433.5 118.6 C1437 126 1441.5 132.5 1446.6 138.3"/>
<!-- V-neck -->
<path d="M1407.2 161.4 C1407.6 175 1409.6 189 1412.1 202.4 C1421 180 1433 159 1446.6 138.3"/>
<path d="M1404 164.6 C1401.4 172.5 1400.2 181 1400.6 189.3 C1401 198 1402.4 207 1404 215.6 C1405.4 223.5 1406.4 231 1407.2 238.6"/>
<!-- shoulder / back -->
<path d="M1446.6 138.3 C1456 142.5 1466 146 1474.6 149.8 C1482 153.5 1489 158.6 1494.3 164.6 C1500 173 1504.5 185 1507.4 199 C1513 221 1519 244 1523.8 266.5"/>
<path d="M1466.3 153.1 C1456 154 1446 157 1438.4 163 C1431.6 173 1427.6 186 1425.3 199 C1423.4 213 1422.4 227.5 1422 241.9"/>
<path d="M1422 241.9 C1429.5 244.6 1437.5 246.8 1445 248.4 C1455 250 1465 250.8 1474.6 251"/>
<path d="M1422.6 243 C1423.6 249 1424.8 254.6 1426 260" stroke-width="1.6"/>
<path d="M1487.7 195.2 C1486.6 212 1484.4 229.5 1481.1 246.8"/>
<path d="M1468 251.7 C1464.6 263 1460 274 1454.8 284.6"/>
<!-- forearm -->
<path d="M1379.3 241.9 C1388 253 1397 264 1406.2 274.7"/>
<path d="M1394 227 C1402.5 234.5 1411.5 241.5 1420.4 248.4"/>
<path d="M1388.5 213.9 C1393.5 215.4 1399 216.6 1404 217.2" stroke-width="1.6"/>
<path d="M1385.9 232 C1392.5 231.4 1399.4 230.2 1405.6 228.7" stroke-width="1.6"/>
<path d="M1400.6 232 L1407.2 236.9" stroke-width="1.6"/>
<!-- hand -->
<path d="M1394 227 C1391.4 221 1388 215.6 1384.2 210.6 C1383 207 1381.4 203.6 1379.3 200.8 C1374 198 1368 195.6 1362.5 193.4 C1355.5 190.2 1348.5 187 1343.4 184.5 C1341.5 183.8 1340.4 185 1341.2 186.6 C1342.4 188 1343 188.4 1344.5 189.4 C1349 193 1353.6 196.8 1357.9 200.8 C1354.6 201.4 1351.8 202.4 1349.7 204 C1347.4 206 1347.4 209 1349.4 210.4 C1347.4 212.4 1346.8 215 1348 217 C1346.6 219.5 1346.8 222.5 1348.6 224.6 C1350.5 227 1353.4 228.8 1356.3 230.4 C1358.6 232 1360.6 233.8 1362.9 235.3 C1368 238 1373.6 240.4 1379.3 241.9" fill="#f4f1ec"/>
<path d="M1349.6 210.4 C1353 209 1357 208.6 1360.6 209.2" stroke-width="1.6"/>
<path d="M1348.2 217 C1351.6 215.8 1355.4 215.6 1358.8 216.2" stroke-width="1.6"/>
<path d="M1357.9 200.8 C1360.4 202 1362.4 203.8 1363.6 206" stroke-width="1.6"/>
<path d="M1372 199.4 C1375 201.6 1377 204.6 1377.8 208" stroke-width="1.4"/>
</g>
<!--P2END-->
</svg>
</body>
</html>
